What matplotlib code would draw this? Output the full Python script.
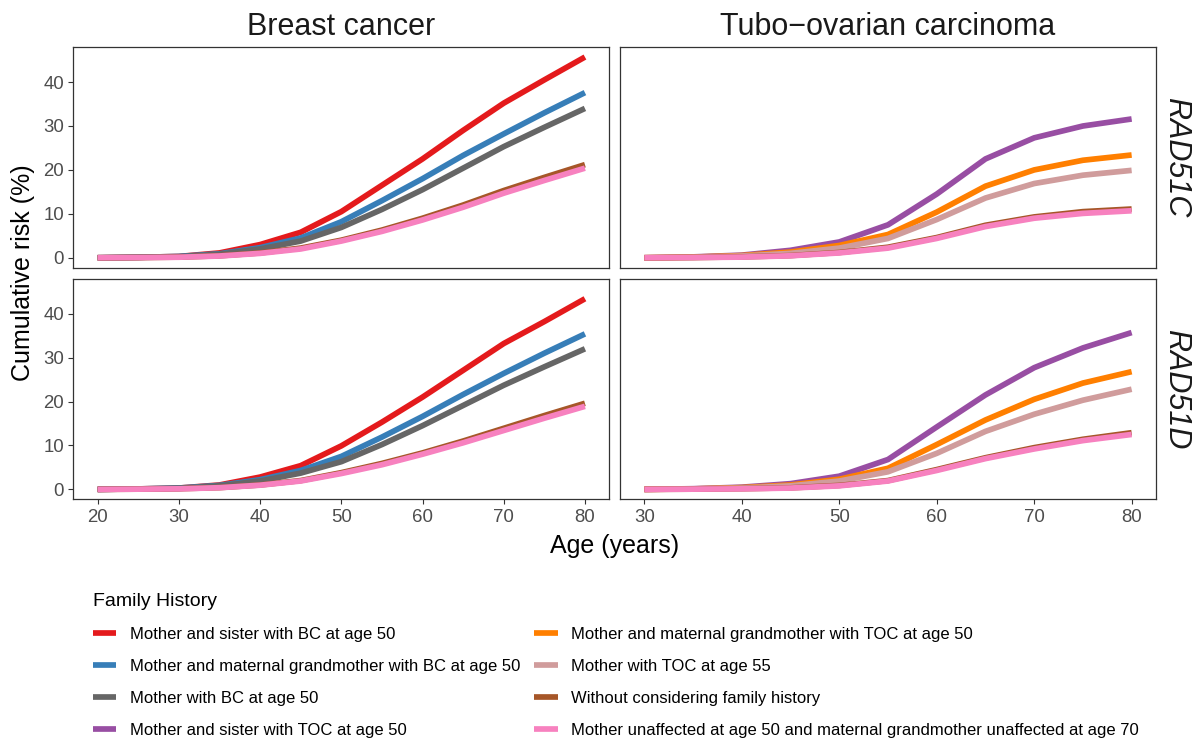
import numpy as np
import matplotlib.pyplot as plt
from matplotlib.lines import Line2D

plt.rcParams['font.family'] = ['Liberation Sans', 'DejaVu Sans']

# ages
bc_age = [20, 25, 30, 35, 40, 45, 50, 55, 60, 65, 70, 75, 80]
toc_age = [30, 35, 40, 45, 50, 55, 60, 65, 70, 75, 80]

# legend labels / colours
labels = ["Mother and sister with BC at age 50",
          "Mother and maternal grandmother with BC at age 50",
          "Mother with BC at age 50",
          "Mother and sister with TOC at age 50",
          "Mother and maternal grandmother with TOC at age 50",
          "Mother with TOC at age 55",
          "Without considering family history",
          "Mother unaffected at age 50 and maternal grandmother unaffected at age 70"]
colors = ["#E41A1C", "#377EB8", "#666666", "#984EA3",
          "#FF7F00", "#D09C9C", "#A65628", "#F781BF"]

# RAD51C, breast cancer
c_bc_sister = [0, 0.1, 0.3, 1.1, 3.0, 5.8, 10.5, 16.5, 22.5, 29.0, 35.2, 40.5, 45.7]
c_bc_grandm = [0, 0.1, 0.3, 0.9, 2.3, 4.5, 8.2, 13.0, 18.0, 23.3, 28.2, 33.0, 37.6]
c_bc_mother = [0, 0.1, 0.2, 0.8, 2.0, 3.8, 6.9, 11.0, 15.5, 20.4, 25.3, 29.7, 34.0]
c_bc_nofh = [0, 0.05, 0.15, 0.45, 1.1, 2.2, 4.0, 6.3, 9.0, 12.0, 15.3, 18.3, 21.2]
c_bc_unaff = [0, 0.05, 0.12, 0.4, 1.0, 2.0, 3.8, 6.0, 8.6, 11.5, 14.7, 17.6, 20.4]

# RAD51C, tubo-ovarian carcinoma
c_toc_sister = [0, 0.2, 0.6, 1.7, 3.6, 7.5, 14.5, 22.5, 27.3, 30.0, 31.6]
c_toc_grandm = [0, 0.15, 0.5, 1.3, 2.8, 5.3, 10.4, 16.3, 20.0, 22.2, 23.4]
c_toc_mother = [0, 0.1, 0.4, 1.0, 2.2, 4.4, 8.7, 13.6, 16.9, 18.8, 19.9]
c_toc_nofh = [0, 0.05, 0.2, 0.5, 1.2, 2.4, 4.6, 7.4, 9.3, 10.5, 11.1]
c_toc_unaff = [0, 0.05, 0.15, 0.45, 1.1, 2.2, 4.4, 7.1, 9.0, 10.1, 10.7]

# RAD51D, breast cancer
d_bc_sister = [0, 0.1, 0.3, 1.0, 2.8, 5.4, 9.9, 15.3, 21.0, 27.1, 33.2, 38.2, 43.4]
d_bc_grandm = [0, 0.1, 0.3, 0.9, 2.2, 4.3, 7.5, 11.9, 16.6, 21.6, 26.4, 31.0, 35.4]
d_bc_mother = [0, 0.1, 0.2, 0.8, 1.9, 3.7, 6.3, 10.2, 14.5, 19.1, 23.7, 27.9, 32.0]
d_bc_nofh = [0, 0.05, 0.15, 0.4, 1.0, 2.0, 3.8, 5.9, 8.3, 11.0, 13.9, 16.8, 19.6]
d_bc_unaff = [0, 0.05, 0.12, 0.38, 0.95, 1.9, 3.6, 5.6, 8.0, 10.6, 13.4, 16.2, 18.9]

# RAD51D, tubo-ovarian carcinoma
d_toc_sister = [0, 0.15, 0.5, 1.3, 3.0, 6.8, 14.2, 21.5, 27.7, 32.2, 35.7]
d_toc_grandm = [0, 0.1, 0.4, 1.0, 2.3, 4.8, 10.2, 15.8, 20.5, 24.2, 26.8]
d_toc_mother = [0, 0.1, 0.3, 0.8, 1.9, 4.0, 8.2, 13.2, 17.1, 20.3, 22.8]
d_toc_nofh = [0, 0.05, 0.15, 0.35, 0.9, 2.0, 4.5, 7.2, 9.5, 11.4, 12.9]
d_toc_unaff = [0, 0.05, 0.12, 0.3, 0.8, 1.9, 4.3, 7.0, 9.2, 11.1, 12.5]

panels = [
    [(bc_age, [(0, c_bc_sister), (1, c_bc_grandm), (2, c_bc_mother), (6, c_bc_nofh), (7, c_bc_unaff)]),
     (toc_age, [(3, c_toc_sister), (4, c_toc_grandm), (5, c_toc_mother), (6, c_toc_nofh), (7, c_toc_unaff)])],
    [(bc_age, [(0, d_bc_sister), (1, d_bc_grandm), (2, d_bc_mother), (6, d_bc_nofh), (7, d_bc_unaff)]),
     (toc_age, [(3, d_toc_sister), (4, d_toc_grandm), (5, d_toc_mother), (6, d_toc_nofh), (7, d_toc_unaff)])],
]

W, H = 1201, 740
fig = plt.figure(figsize=(W / 100, H / 100), dpi=100)

xcols = [(73.3, 609.3), (620, 1156)]
yrows = [(47, 267.8), (278.6, 499.4)]
xlims = [(17, 83), (27.5, 82.5)]
xticks = [np.arange(20, 81, 10), np.arange(30, 81, 10)]
ylim = (-2.285, 47.985)

for r in range(2):
    for c in range(2):
        x0, x1 = xcols[c]
        y0, y1 = yrows[r]
        ax = fig.add_axes([x0 / W, 1 - y1 / H, (x1 - x0) / W, (y1 - y0) / H])
        ages, series = panels[r][c]
        for idx, vals in series:
            ax.plot(ages, vals, color=colors[idx], lw=4.1, solid_capstyle='butt',
                    solid_joinstyle='round')
        ax.set_xlim(*xlims[c])
        ax.set_ylim(*ylim)
        ax.set_yticks([0, 10, 20, 30, 40])
        ax.set_xticks(xticks[c])
        for s in ax.spines.values():
            s.set_color('#333333')
            s.set_linewidth(0.9)
        ax.tick_params(direction='out', length=3.6, width=0.8, color='#333333',
                       labelcolor='#4D4D4D', labelsize=13.4, pad=3)
        if c == 1:
            ax.tick_params(axis='y', left=False, labelleft=False)
        if r == 0:
            ax.tick_params(axis='x', bottom=False, labelbottom=False)

# strips
fig.text((73.3 + 609.3) / 2 / W, 1 - 35 / H, "Breast cancer", fontsize=22,
         ha='center', va='baseline', color='#1A1A1A')
fig.text((620 + 1156) / 2 / W, 1 - 35 / H, "Tubo\u2212ovarian carcinoma", fontsize=22,
         ha='center', va='baseline', color='#1A1A1A')
for r, name in enumerate(["RAD51C", "RAD51D"]):
    yc = (yrows[r][0] + yrows[r][1]) / 2
    fig.text(1176 / W, 1 - yc / H, name, fontsize=22, style='italic', rotation=-90,
             ha='center', va='center', color='#1A1A1A')

fig.text(23 / W, 1 - 273 / H, "Cumulative risk (%)", fontsize=18, rotation=90,
         ha='center', va='center')
fig.text(614.7 / W, 1 - 553 / H, "Age (years)", fontsize=18, ha='center', va='baseline')

handles = [Line2D([], [], color=col, lw=4.1, solid_capstyle='butt') for col in colors]
leg = fig.legend(handles, labels, loc='upper left', bbox_to_anchor=(93 / W, 1 - 593 / H),
                 ncol=2, frameon=False, fontsize=12, title="Family History",
                 title_fontsize=14, alignment='left', borderpad=0, borderaxespad=0,
                 handlelength=1.4, handletextpad=0.8, labelspacing=1.02,
                 columnspacing=0.85)

fig.savefig("out.png", dpi=100)
